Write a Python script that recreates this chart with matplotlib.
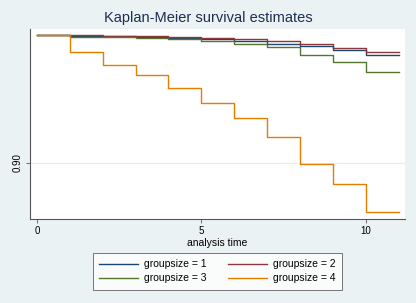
import matplotlib
matplotlib.use("Agg")
import matplotlib.pyplot as plt

plt.rcParams["font.family"] = ["Liberation Sans", "DejaVu Sans"]

# step times (analysis time) and KM survival at each step
times = [0, 1, 2, 3, 4, 5, 6, 7, 8, 9, 10, 11]
surv_g1 = [1.0, 0.9995, 0.9993, 0.9987, 0.9979, 0.9969, 0.9953, 0.9934, 0.9916, 0.9885, 0.9849]
surv_g2 = [1.0, 1.0, 0.9996, 0.9992, 0.9987, 0.9981, 0.9971, 0.9953, 0.9929, 0.9904, 0.9867]
surv_g3 = [1.0, 0.9989, 0.9987, 0.9979, 0.9969, 0.9953, 0.9932, 0.9908, 0.9849, 0.9788, 0.9714]
surv_g4 = [1.0, 0.987, 0.9768, 0.9687, 0.9586, 0.9469, 0.9348, 0.920, 0.8988, 0.8832, 0.8616]
labels = ["groupsize = 1", "groupsize = 2", "groupsize = 3", "groupsize = 4"]
colors = ["#1a476f", "#90353b", "#55752f", "#e37e00"]

bg = "#eaf2f3"
fig = plt.figure(figsize=(4.16, 3.03), dpi=100, facecolor=bg)
ax = fig.add_axes([0.0721, 0.2756, 0.9015, 0.6297])
ax.set_facecolor("white")

lines = []
for s, lab, c in zip([surv_g1, surv_g2, surv_g3, surv_g4], labels, colors):
    ln, = ax.step(times, s + [s[-1]], where="post", color=c, lw=1.0, label=lab)
    lines.append(ln)

ax.axhline(0.90, color="#e6eded", lw=0.8, zorder=0)

ax.set_xlim(-0.21, 11.19)
ax.set_ylim(0.8554, 1.0052)
ax.set_xticks([0, 5, 10])
ax.set_yticks([0.90])
ax.set_yticklabels(["0.90"], rotation=90, va="center")
ax.tick_params(axis="both", labelsize=7, length=3, width=0.6, color="#555555", pad=2)

for side in ["top", "right"]:
    ax.spines[side].set_visible(False)
for side in ["left", "bottom"]:
    ax.spines[side].set_color("#555555")
    ax.spines[side].set_linewidth(0.8)

ax.set_xlabel("analysis time", fontsize=7.5, labelpad=1)
fig.suptitle("Kaplan-Meier survival estimates", fontsize=10.5, color="#1e2d53", y=0.965)

# row-major order like Stata: 1 2 / 3 4
order = [0, 2, 1, 3]
leg = fig.legend([lines[i] for i in order], [labels[i] for i in order],
                 loc="upper center", bbox_to_anchor=(0.5228, 0.165),
                 ncol=2, fontsize=7.5, frameon=True, fancybox=False, handlelength=3.75,
                 handletextpad=0.58, columnspacing=2.0, labelspacing=0.4,
                 borderpad=0.6, borderaxespad=0)
leg.get_frame().set_edgecolor("#555555")
leg.get_frame().set_linewidth(0.7)

fig.savefig("out.png", dpi=100, facecolor=bg)
